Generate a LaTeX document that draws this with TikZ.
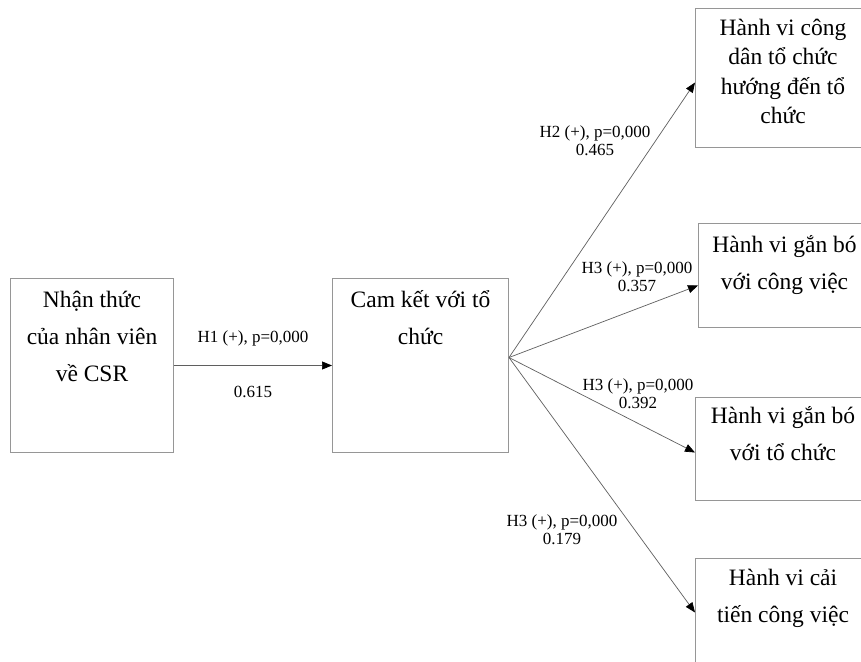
\documentclass[tikz,border=0pt]{standalone}
\usepackage{fontspec}
\setmainfont{Liberation Serif}
\usepackage{xcolor}
\definecolor{boxGray}{RGB}{150,150,150}
\definecolor{lineGray}{RGB}{95,95,95}
\usetikzlibrary{arrows.meta, positioning, calc}

\begin{document}
\begin{tikzpicture}[
    x=1pt, y=-1pt,
    cBox/.style={
        rectangle, draw=boxGray, line width=1pt,
        anchor=north west, inner sep=0pt
    },
    cText/.style={
        font=\fontsize{23.5}{37}\selectfont, align=center,
        anchor=base, inner sep=0pt
    },
    pathArrow/.style={
        -{Triangle[length=10pt, width=8pt, color=black]}, line width=0.7pt, draw=lineGray
    },
    pathLabel/.style={
        font=\fontsize{17}{18}\selectfont, align=center, inner sep=1pt
    }
]

    % Canvas
    \clip (0,0) rectangle (861,661);
    \fill[white] (0,0) rectangle (861,661);

    % Boxes
    \node[cBox, minimum width=163pt, minimum height=174pt] (c1) at (10,278) {};
    \node[cBox, minimum width=176pt, minimum height=174pt] (c2) at (332,278) {};
    \node[cBox, minimum width=175pt, minimum height=139pt] (c3) at (695,8) {};
    \node[cBox, minimum width=172pt, minimum height=104pt] (c4) at (698,223) {};
    \node[cBox, minimum width=175pt, minimum height=103pt] (c5) at (695,397) {};
    \node[cBox, minimum width=175pt, minimum height=120pt] (c6) at (695,558) {};

    % Box texts (base = last line)
    \node[cText] (t1) at ([yshift=-103pt]c1.north) {Nhận thức\\của nhân viên\\về CSR};
    \node[cText] (t2) at ([yshift=-66pt]c2.north) {Cam kết với tổ\\chức};
    \node[cText, font=\fontsize{23.5}{29.5}\selectfont] (t3) at ([yshift=-115.5pt]c3.north) {Hành vi công\\dân tổ chức\\hướng đến tổ\\chức};
    \node[cText] (t4) at ([yshift=-66pt]c4.north) {Hành vi gắn bó\\với công việc};
    \node[cText] (t5) at ([yshift=-63pt]c5.north) {Hành vi gắn bó\\với tổ chức};
    \node[cText] (t6) at ([yshift=-64pt]c6.north) {Hành vi cải\\tiến công việc};

    % Paths
    \draw[pathArrow] (c1.east) -- node[pathLabel, above=18pt] (l1) {H1 (+), p=0,000}
        node[pathLabel, below=19pt] (v1) {0.615} (c2.west);
    \coordinate (fan) at ([yshift=8pt]c2.east);
    \draw[pathArrow] (fan) -- ([yshift=-4.5pt]c3.west);
    \draw[pathArrow] (fan) -- ([yshift=-10pt]c4.west);
    \draw[pathArrow] (fan) -- ([yshift=-3.5pt]c5.west);
    \draw[pathArrow] (fan) -- ([yshift=6pt]c6.west);

    % Path labels
    \node[pathLabel] (l2) at (595,141) {H2 (+), p=0,000\\0.465};
    \node[pathLabel] (l3) at (637,277) {H3 (+), p=0,000\\0.357};
    \node[pathLabel] (l4) at (638,394) {H3 (+), p=0,000\\0.392};
    \node[pathLabel] (l5) at (562,530) {H3 (+), p=0,000\\0.179};

\end{tikzpicture}
\end{document}
